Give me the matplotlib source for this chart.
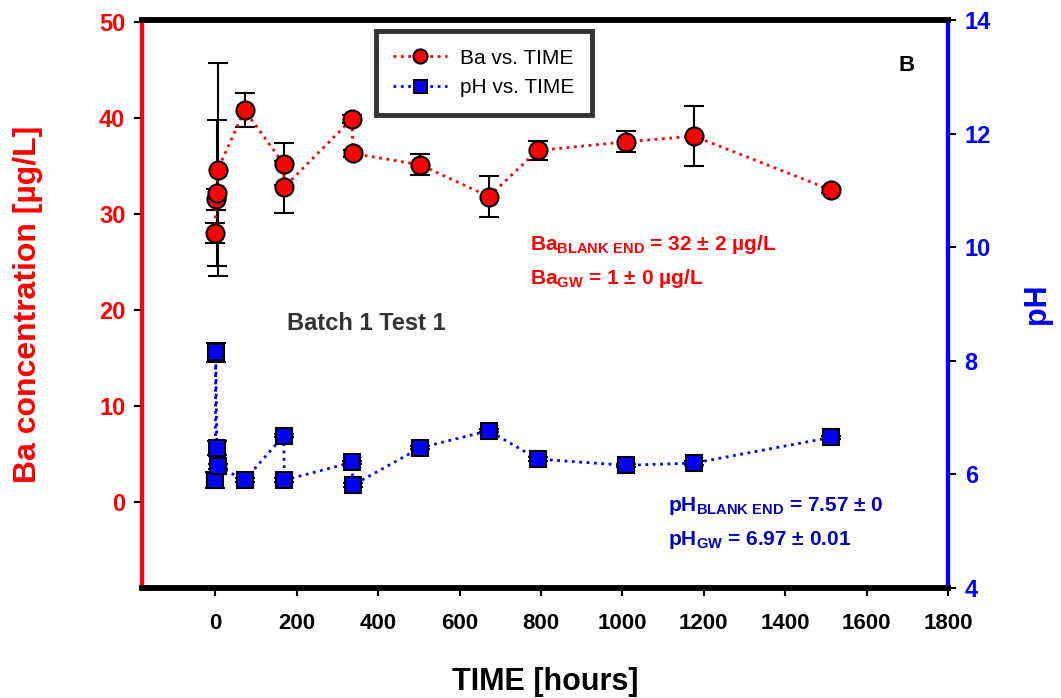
import matplotlib
matplotlib.use('Agg')
import matplotlib.pyplot as plt

plt.rcParams['font.family'] = ['Liberation Sans', 'DejaVu Sans']
plt.rcParams['mathtext.fontset'] = 'custom'
plt.rcParams['mathtext.rm'] = 'Liberation Sans'
plt.rcParams['mathtext.bf'] = 'Liberation Sans:bold'
plt.rcParams['mathtext.default'] = 'bf'

# Ba concentration [ug/L] vs time [hours]
ba_time = [0, 1, 4, 6, 72, 168, 170, 336, 338, 504, 672, 792, 1008, 1176, 1512]
ba_val = [28.0, 31.5, 32.2, 34.6, 40.8, 35.2, 32.8, 39.9, 36.3, 35.1, 31.8, 36.6, 37.5, 38.1, 32.5]
ba_err = [1.0, 1.1, 7.6, 11.1, 1.8, 2.2, 2.7, 0.4, 0.4, 1.1, 2.1, 1.0, 1.1, 3.1, 0.3]

# pH vs time [hours]
ph_time = [0, 1, 4, 6, 72, 168, 170, 336, 338, 504, 672, 792, 1008, 1176, 1512]
ph_val = [5.90, 8.15, 6.47, 6.14, 5.90, 6.68, 5.90, 6.21, 5.81, 6.47, 6.77, 6.27, 6.16, 6.20, 6.65]
ph_err = [0.14, 0.17, 0.12, 0.05, 0.03, 0.03, 0.03, 0.03, 0.03, 0.03, 0.03, 0.03, 0.03, 0.03, 0.03]

x_ticks = [0, 200, 400, 600, 800, 1000, 1200, 1400, 1600, 1800]
ba_ticks = [0, 10, 20, 30, 40, 50]
ph_ticks = [4, 6, 8, 10, 12, 14]

narrow = ['Liberation Sans Narrow', 'Liberation Sans', 'DejaVu Sans']

fig = plt.figure(figsize=(10.61, 6.98), dpi=100)
ax = fig.add_axes([142 / 1061, 1 - 588 / 698, 806 / 1061, 568 / 698])
ax2 = ax.twinx()

# Ba series
ax.errorbar(ba_time, ba_val, yerr=ba_err, fmt='none', ecolor='black', elinewidth=1.5,
            capsize=7, capthick=1.5, zorder=2)
ln1, = ax.plot(ba_time, ba_val, linestyle=':', color='red', lw=2, marker='o', ms=13,
               mfc='red', mec='black', mew=1.5, zorder=3, label='Ba vs. TIME')

# pH series
ax2.errorbar(ph_time, ph_val, yerr=ph_err, fmt='none', ecolor='black', elinewidth=1.5,
             capsize=7, capthick=1.5, zorder=2)
ln2, = ax2.plot(ph_time, ph_val, linestyle=':', color='blue', lw=2, marker='s', ms=12,
                mfc='blue', mec='black', mew=1.5, zorder=3, label='pH vs. TIME')

ax.set_xlim(-180, 1800)
ax.set_ylim(-9, 50.2)
ax2.set_ylim(4, 14)
ax.set_xticks(x_ticks)
ax.set_yticks(ba_ticks)
ax2.set_yticks(ph_ticks)

for lab in ax.get_xticklabels():
    lab.set_family(narrow)
    lab.set_fontweight('bold')
    lab.set_fontsize(16)
ax.tick_params(axis='x', direction='out', length=6, width=1.5, pad=12)
ax.tick_params(axis='y', direction='out', length=6, width=1.5, labelcolor='red',
               labelsize=17, pad=6)
ax2.tick_params(axis='y', direction='out', length=6, width=1.5, labelcolor='blue',
                labelsize=17, pad=6)
for lab in ax.get_yticklabels() + ax2.get_yticklabels():
    lab.set_fontweight('bold')

for a in (ax, ax2):
    a.spines['top'].set_linewidth(4)
    a.spines['bottom'].set_linewidth(4)
    a.spines['left'].set_color('red')
    a.spines['left'].set_linewidth(3)
    a.spines['right'].set_color('blue')
    a.spines['right'].set_linewidth(3)

ax.set_xlabel('TIME [hours]', family=narrow, fontweight='bold', fontsize=22, labelpad=24)
ax.set_ylabel('Ba concentration [µg/L]', color='red', fontweight='bold', fontsize=23,
              labelpad=40)
ax2.set_ylabel('pH', color='blue', fontweight='bold', fontsize=22, rotation=90, labelpad=22)

leg = ax.legend(handles=[ln1, ln2], loc='upper left', bbox_to_anchor=(0.290, 0.981),
                borderaxespad=0, fontsize=15, frameon=True, fancybox=False,
                edgecolor='black', borderpad=0.85, handlelength=2.55, handletextpad=0.65,
                labelspacing=0.5, markerscale=0.78)
leg.get_frame().set_linewidth(3.5)
leg.set_zorder(10)

ax.text(0.481, 0.595, r'Ba$_{BLANK\ END}$ = 32 ± 2 µg/L', transform=ax.transAxes,
        color='red', fontweight='bold', fontsize=15)
ax.text(0.481, 0.535, r'Ba$_{GW}$ = 1 ± 0 µg/L', transform=ax.transAxes,
        color='red', fontweight='bold', fontsize=15)
ax.text(0.652, 0.135, r'pH$_{BLANK\ END}$ = 7.57 ± 0', transform=ax.transAxes,
        color='#0000c0', fontweight='bold', fontsize=15)
ax.text(0.652, 0.075, r'pH$_{GW}$ = 6.97 ± 0.01', transform=ax.transAxes,
        color='#0000c0', fontweight='bold', fontsize=15)
ax.text(0.18, 0.466, 'Batch 1 Test 1', transform=ax.transAxes, color='#333333',
        fontweight='bold', fontsize=17, va='center')
ax.text(0.938, 0.91, 'B', transform=ax.transAxes, color='black',
        fontweight='bold', fontsize=16)

fig.savefig('out.png', dpi=100)
